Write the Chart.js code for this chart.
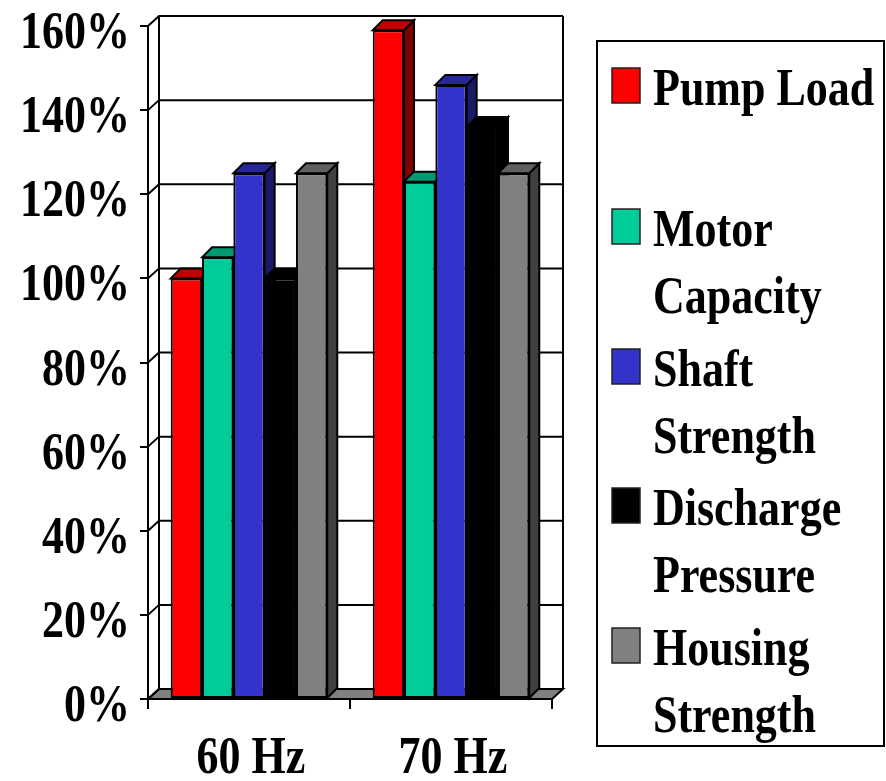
<!DOCTYPE html>
<html>
<head>
<meta charset="utf-8">
<script src="https://cdn.jsdelivr.net/npm/chart.js@4/dist/chart.umd.min.js"></script>
<style>
  html, body { margin: 0; padding: 0; background: #fff; }
  #wrap { position: relative; width: 886px; height: 781px; }
</style>
</head>
<body>
<div id="wrap"><canvas id="chart" width="886" height="781"></canvas></div>
<script>
// --- Data ---
const categories = ['60 Hz', '70 Hz'];
const pumpLoad = [100, 159];
const motorCapacity = [105, 123];
const shaftStrength = [125, 146];
const dischargePressure = [100, 136];
const housingStrength = [125, 125];

const yTicks = [0, 20, 40, 60, 80, 100, 120, 140, 160];

// legend text, split the way the original wraps it
const legendLines = [
    ['Pump Load'],
    ['Motor', 'Capacity'],
    ['Shaft', 'Strength'],
    ['Discharge', 'Pressure'],
    ['Housing', 'Strength']
];

// --- Styles ---
const frontColors = ['#FF0000', '#00CC99', '#3333CC', '#000000', '#808080'];
const topColors   = ['#C00000', '#009973', '#262699', '#000000', '#606060'];
const sideColors  = ['#800000', '#006648', '#1A1A66', '#000000', '#404040'];

const FONT = 'bold 44px "Liberation Serif", "Times New Roman", serif';
const STRETCH = 1.22;      // the source text is drawn taller than wide
const WX = 11, WY = 10;    // wall depth
const BX = 10, BY = 10;    // bar depth

function stretchedText(ctx, text, x, y, align) {
    ctx.save();
    ctx.translate(x, y);
    ctx.scale(1, STRETCH);
    ctx.textAlign = align;
    ctx.textBaseline = 'alphabetic';
    ctx.fillText(text, 0, 0);
    ctx.restore();
}

function poly(ctx, pts, fill) {
    ctx.beginPath();
    ctx.moveTo(pts[0][0], pts[0][1]);
    for (let i = 1; i < pts.length; i++) ctx.lineTo(pts[i][0], pts[i][1]);
    ctx.closePath();
    if (fill) { ctx.fillStyle = fill; ctx.fill(); }
    ctx.stroke();
}

// Walls, floor and the top/side faces of each bar (fronts are drawn by Chart.js)
const threeD = {
    id: 'threeD',
    beforeDatasetsDraw(chart) {
        const ctx = chart.ctx;
        const a = chart.chartArea;
        const ys = chart.scales.y;
        ctx.save();
        ctx.lineWidth = 2;
        ctx.strokeStyle = '#000';
        ctx.lineJoin = 'miter';

        // floor
        poly(ctx, [[a.left, a.bottom], [a.right, a.bottom], [a.right + WX, a.bottom - WY], [a.left + WX, a.bottom - WY]], '#808080');

        // back wall grid + side wall connectors
        yTicks.forEach(v => {
            const y = ys.getPixelForValue(v);
            ctx.beginPath();
            ctx.moveTo(a.left, y);
            ctx.lineTo(a.left + WX, y - WY);
            ctx.lineTo(a.right + WX, y - WY);
            ctx.stroke();
        });
        ctx.beginPath();
        ctx.moveTo(a.left + WX, a.top - WY);
        ctx.lineTo(a.left + WX, a.bottom - WY);
        ctx.moveTo(a.right + WX, a.top - WY);
        ctx.lineTo(a.right + WX, a.bottom - WY);
        ctx.stroke();

        // bar sides and tops, left to right
        for (let i = 0; i < categories.length; i++) {
            chart.data.datasets.forEach((ds, d) => {
                const el = chart.getDatasetMeta(d).data[i];
                const p = el.getProps(['x', 'y', 'base', 'width'], true);
                const l = p.x - p.width / 2, r = p.x + p.width / 2;
                poly(ctx, [[r, p.y], [r + BX, p.y - BY], [r + BX, p.base - BY], [r, p.base]], sideColors[d]);
                poly(ctx, [[l, p.y], [l + BX, p.y - BY], [r + BX, p.y - BY], [r, p.y]], topColors[d]);
            });
        }
        ctx.restore();
    },
    afterDraw(chart) {
        const ctx = chart.ctx;
        const ys = chart.scales.y, xs = chart.scales.x;
        ctx.save();
        ctx.fillStyle = '#000';
        ctx.font = FONT;

        // y labels
        yTicks.forEach(v => {
            stretchedText(ctx, v + '%', 130, ys.getPixelForValue(v) + 22, 'right');
        });
        // x labels
        categories.forEach((c, i) => {
            stretchedText(ctx, c, xs.getPixelForValue(i) + 2, 773, 'center');
        });

        // legend box
        ctx.lineWidth = 2;
        ctx.strokeStyle = '#000';
        ctx.strokeRect(597, 41, 287, 705);
        const itemTop = [105, 246, 386, 525, 665];
        legendLines.forEach((lines, k) => {
            const base = itemTop[k];
            ctx.fillStyle = frontColors[k];
            ctx.fillRect(612, base - 37, 28, 35);
            ctx.lineWidth = 1.5;
            ctx.strokeStyle = '#222';
            ctx.strokeRect(612, base - 37, 28, 35);
            ctx.fillStyle = '#000';
            lines.forEach((t, j) => stretchedText(ctx, t, 653, base + j * 67, 'left'));
        });
        ctx.restore();
    }
};

const seriesValues = [pumpLoad, motorCapacity, shaftStrength, dischargePressure, housingStrength];

new Chart(document.getElementById('chart'), {
    type: 'bar',
    data: {
        labels: categories,
        datasets: seriesValues.map((vals, d) => ({
            label: legendLines[d].join(' '),
            data: vals,
            backgroundColor: frontColors[d],
            borderColor: '#000',
            borderWidth: 2,
            borderSkipped: false,
            barPercentage: 1,
            categoryPercentage: 0.775
        }))
    },
    options: {
        responsive: false,
        animation: false,
        devicePixelRatio: 1,
        layout: { padding: { top: 26, right: 334, left: 0, bottom: 0 } },
        plugins: { legend: { display: false }, tooltip: { enabled: false } },
        scales: {
            y: {
                min: 0,
                max: 160,
                ticks: { display: false, stepSize: 20 },
                grid: { drawOnChartArea: false, drawTicks: true, tickLength: 8, color: '#000', lineWidth: 2 },
                border: { display: true, color: '#000', width: 2 },
                afterFit(scale) { scale.width = 148; }
            },
            x: {
                ticks: { display: false },
                grid: { offset: true, drawOnChartArea: false, drawTicks: true, tickLength: 10, color: '#000', lineWidth: 2 },
                border: { display: true, color: '#000', width: 2 },
                afterFit(scale) { scale.height = 82; }
            }
        }
    },
    plugins: [threeD]
});
</script>
</body>
</html>
